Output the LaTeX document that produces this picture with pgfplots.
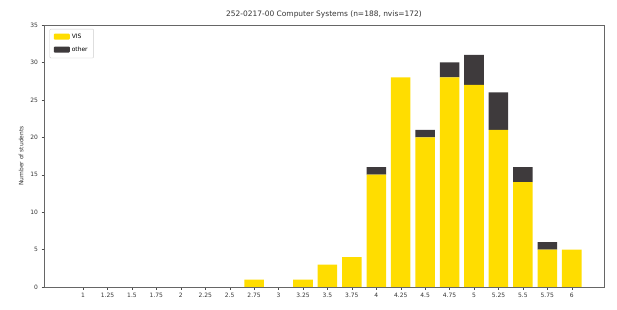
\documentclass[border=0pt]{standalone}
\usepackage{pgfplots}
\pgfplotsset{compat=1.18}
\usepackage{fontspec}
\setmainfont{DejaVu Sans}
\definecolor{visY}{HTML}{FFDD00}
\definecolor{othG}{HTML}{3E3A3C}
\begin{document}
\begin{tikzpicture}
\begin{axis}[name=a,
  scale only axis, width=560bp, height=262bp,
  xmin=0.6, xmax=6.33, ymin=0, ymax=35,
  ybar stacked, bar width=0.2,
  xtick={1,1.25,...,6},
  xticklabels={1,1.25,1.5,1.75,2,2.25,2.5,2.75,3,3.25,3.5,3.75,4,4.25,4.5,4.75,5,5.25,5.5,5.75,6},
  ytick={0,5,...,35},
  tick align=outside, tick pos=left,
  major tick length=2.5bp,
  tick style={black!70},
  axis line style={black!60},
  ticklabel style={font=\fontsize{6}{7}\selectfont, text=black!80},
  /pgf/number format/assume math mode=true,
  ylabel={Number of students},
  ylabel style={font=\fontsize{6}{7}\selectfont, text=black!80},
  title={252-0217-00 Computer Systems (n=188, nvis=172)},
  title style={font=\fontsize{7.5}{9}\selectfont, text=black!80, yshift=-3bp},
  legend style={at={(0.01,0.985)}, anchor=north west, font=\fontsize{6}{7}\selectfont, draw=black!20, rounded corners=1pt, inner xsep=4pt, inner ysep=3pt, row sep=3pt},
  legend cell align=left,
  legend image code/.code={\fill[#1] (0bp,-2.5bp) rectangle (16bp,3.5bp);},
]
\addplot[fill=visY, draw=none] coordinates {(2.75,1) (3.25,1) (3.5,3) (3.75,4) (4,15) (4.25,28) (4.5,20) (4.75,28) (5,27) (5.25,21) (5.5,14) (5.75,5) (6,5)};
\addlegendentry{VIS}
\addplot[fill=othG, draw=none] coordinates {(2.75,0) (3.25,0) (3.5,0) (3.75,0) (4,1) (4.25,0) (4.5,1) (4.75,2) (5,4) (5.25,5) (5.5,2) (5.75,1) (6,0)};
\addlegendentry{other}
\end{axis}
\path (a.south west) +(-44bp,-23bp) rectangle +(573bp,287bp);
\end{tikzpicture}
\end{document}
